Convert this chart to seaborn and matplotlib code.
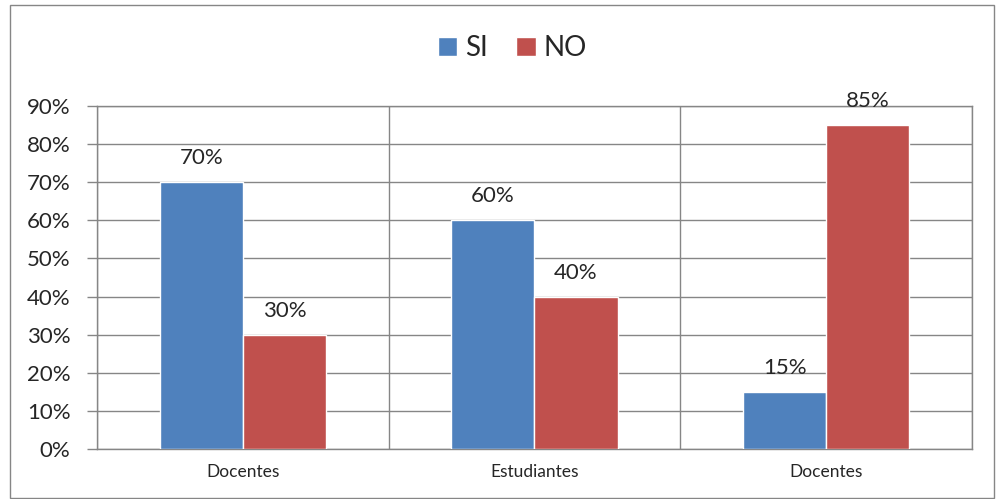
import pandas as pd
import numpy as np
import matplotlib.pyplot as plt
import seaborn as sns
from matplotlib.patches import Rectangle
from matplotlib.ticker import PercentFormatter, FixedLocator

sns.set_style("white")
plt.rcParams["font.family"] = ["Lato", "DejaVu Sans"]

# Data
grupos = ["g1", "g2", "g3"]
etiquetas = ["Docentes", "Estudiantes", "Docentes"]
series = ["SI", "NO"]
si_vals = [0.70, 0.60, 0.15]
no_vals = [0.30, 0.40, 0.85]
colores = ["#4F81BD", "#C0504D"]

df = pd.DataFrame({
    "Grupo": grupos * 2,
    "Respuesta": ["SI"] * 3 + ["NO"] * 3,
    "Valor": si_vals + no_vals,
})

fig = plt.figure(figsize=(9.97, 4.99), dpi=100)
ax = fig.add_axes([0.0973, 0.1002, 0.8776, 0.6874])

sns.barplot(data=df, x="Grupo", y="Valor", hue="Respuesta", order=grupos,
            hue_order=series, palette=colores, width=0.57, saturation=1,
            ax=ax, zorder=3)

grid_col = "#868686"
ax.set_ylim(0, 0.9)
ax.set_xlim(-0.5, 2.5)
ax.yaxis.set_major_locator(FixedLocator(np.arange(0, 0.91, 0.1)))
ax.yaxis.set_major_formatter(PercentFormatter(1.0, decimals=0))
ax.set_xticks(range(3))
ax.set_xticklabels(etiquetas, fontsize=12.5)
ax.xaxis.set_minor_locator(FixedLocator([-0.5, 0.5, 1.5, 2.5]))
ax.tick_params(axis="x", which="major", length=0, pad=11)
ax.tick_params(axis="x", which="minor", length=6, color=grid_col, width=1)
ax.tick_params(axis="y", length=7, color=grid_col, width=1, labelsize=16, pad=12, left=True)
ax.grid(axis="y", which="major", color=grid_col, linewidth=1, zorder=0)
ax.grid(axis="x", which="minor", color=grid_col, linewidth=1, zorder=0)
ax.set_axisbelow(True)
for sp in ax.spines.values():
    sp.set_color(grid_col)
    sp.set_linewidth(1)
ax.set_xlabel("")
ax.set_ylabel("")

for cont in ax.containers:
    ax.bar_label(cont, labels=[f"{b.get_height():.0%}" for b in cont],
                 padding=10, fontsize=16, clip_on=False)

handles, labels = ax.get_legend_handles_labels()
ax.legend(handles, labels, loc="center", bbox_to_anchor=(0.514, 0.903),
          bbox_transform=fig.transFigure, ncol=2, frameon=False, fontsize=20,
          handlelength=0.7, handleheight=0.7, handletextpad=0.3, columnspacing=1.0)

fig.patches.append(Rectangle((10 / 997, 0.002), 984 / 997, 1 - 5 / 499 - 0.002,
                             transform=fig.transFigure, fill=False,
                             edgecolor=grid_col, linewidth=1))

fig.savefig("out.png", dpi=100)
